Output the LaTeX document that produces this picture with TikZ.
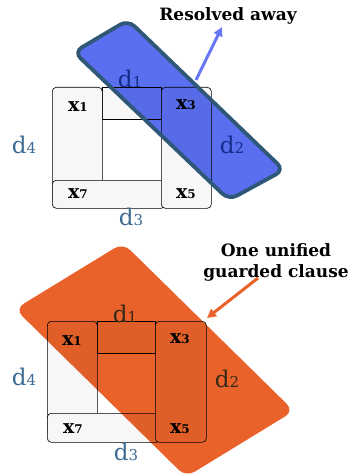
\documentclass[tikz,border=0pt]{standalone}
\usepackage{fontspec}
\setmainfont{DejaVu Serif}
\usetikzlibrary{arrows.meta}

\definecolor{lblblue}{HTML}{3D6A93}
\definecolor{resblue}{HTML}{5A6EF0}
\definecolor{resedge}{HTML}{2F5878}
\definecolor{arrblue}{HTML}{6677F6}
\definecolor{clsorange}{HTML}{E8622A}

\newcommand{\dlbl}[1]{d{\fontsize{15}{15}\selectfont #1}}
\newcommand{\xlbl}[1]{x{\fontsize{12}{12}\selectfont #1}}

\begin{document}
\begin{tikzpicture}[x=1pt, y=-1pt,
  cell/.style={draw, rounded corners=4pt, fill=black!3, line width=0.6pt, inner sep=0pt},
  bar/.style={draw, fill=black!3, line width=0.6pt, inner sep=0pt},
  dl/.style={text=lblblue, font=\fontsize{23}{23}\selectfont, anchor=base, inner sep=0pt},
  xl/.style={font=\bfseries\fontsize{19}{19}\selectfont, anchor=base, inner sep=0pt},
  note/.style={font=\bfseries\fontsize{17}{21}\selectfont, align=center, inner sep=0pt},
  arr/.style={-{Triangle[length=9pt, width=9pt]}, line width=3pt},
]
\useasboundingbox (0,0) rectangle (356,476);

% top: the clause that is resolved away
\node[bar, anchor=north west, minimum width=59pt, minimum height=32pt] (tbar) at (102,87) {};
\node[cell, anchor=north west, minimum width=50pt, minimum height=115pt] (tc1) at (52,87) {};
\node[cell, anchor=north west, minimum width=113pt, minimum height=28pt] (tc7) at (52,180) {};
\node[cell, anchor=north west, minimum width=50pt, minimum height=121pt] (tc3) at (161,87) {};

\node[xl] (tx1) at (78,112) {\xlbl{1}};
\node[xl] (tx3) at (186,110) {\xlbl{3}};
\node[xl] (tx7) at (78,198) {\xlbl{7}};
\node[xl] (tx5) at (186,198) {\xlbl{5}};

\node[dl] (td1) at (130,88) {\dlbl{1}};
\node[dl] (td2) at (232,153) {\dlbl{2}};
\node[dl] (td3) at (131,225) {\dlbl{3}};
\node[dl] (td4) at (24,153) {\dlbl{4}};

\coordinate (bL) at (74,52);
\coordinate (bT) at (128,20);
\coordinate (bR) at (284,170);
\coordinate (bB) at (229,200);
\fill[resblue, blend mode=multiply, rounded corners=9pt] (bL) -- (bT) -- (bR) -- (bB) -- cycle;
\draw[resedge, line width=3.8pt, rounded corners=9pt] (bL) -- (bT) -- (bR) -- (bB) -- cycle;

\node[note, anchor=base] (resolved) at (228,21) {Resolved away};
\coordinate (rtail) at (196,80);
\coordinate (rtip) at (222,27);
\draw[arr, arrblue] (rtail) -- (rtip);

% bottom: one unified guarded clause
\node[bar, anchor=north west, minimum width=58pt, minimum height=32pt] (gbar) at (97,321) {};
\node[cell, anchor=north west, minimum width=50pt, minimum height=115pt] (gc1) at (47,321) {};
\node[cell, anchor=north west, minimum width=113pt, minimum height=29pt] (gc7) at (47,413) {};
\node[cell, anchor=north west, minimum width=51pt, minimum height=121pt] (gc3) at (155,321) {};

\node[xl] (gx1) at (72,345) {\xlbl{1}};
\node[xl] (gx3) at (180,343) {\xlbl{3}};
\node[xl] (gx7) at (73,433) {\xlbl{7}};
\node[xl] (gx5) at (180,433) {\xlbl{5}};

\node[dl] (gd1) at (125,322) {\dlbl{1}};
\node[dl] (gd2) at (227,387) {\dlbl{2}};
\node[dl] (gd3) at (126,460) {\dlbl{3}};
\node[dl] (gd4) at (24,385) {\dlbl{4}};

\coordinate (oL) at (15,309);
\coordinate (oT) at (123,243);
\coordinate (oR) at (294,411);
\coordinate (oB) at (186,477);
\fill[clsorange, blend mode=multiply, rounded corners=10pt] (oL) -- (oT) -- (oR) -- (oB) -- cycle;

\node[note] (unified) at (276,262) {One unified\\guarded clause};
\coordinate (gtail) at (258,278);
\coordinate (gtip) at (207,318);
\draw[arr, clsorange] (gtail) -- (gtip);
\end{tikzpicture}
\end{document}
